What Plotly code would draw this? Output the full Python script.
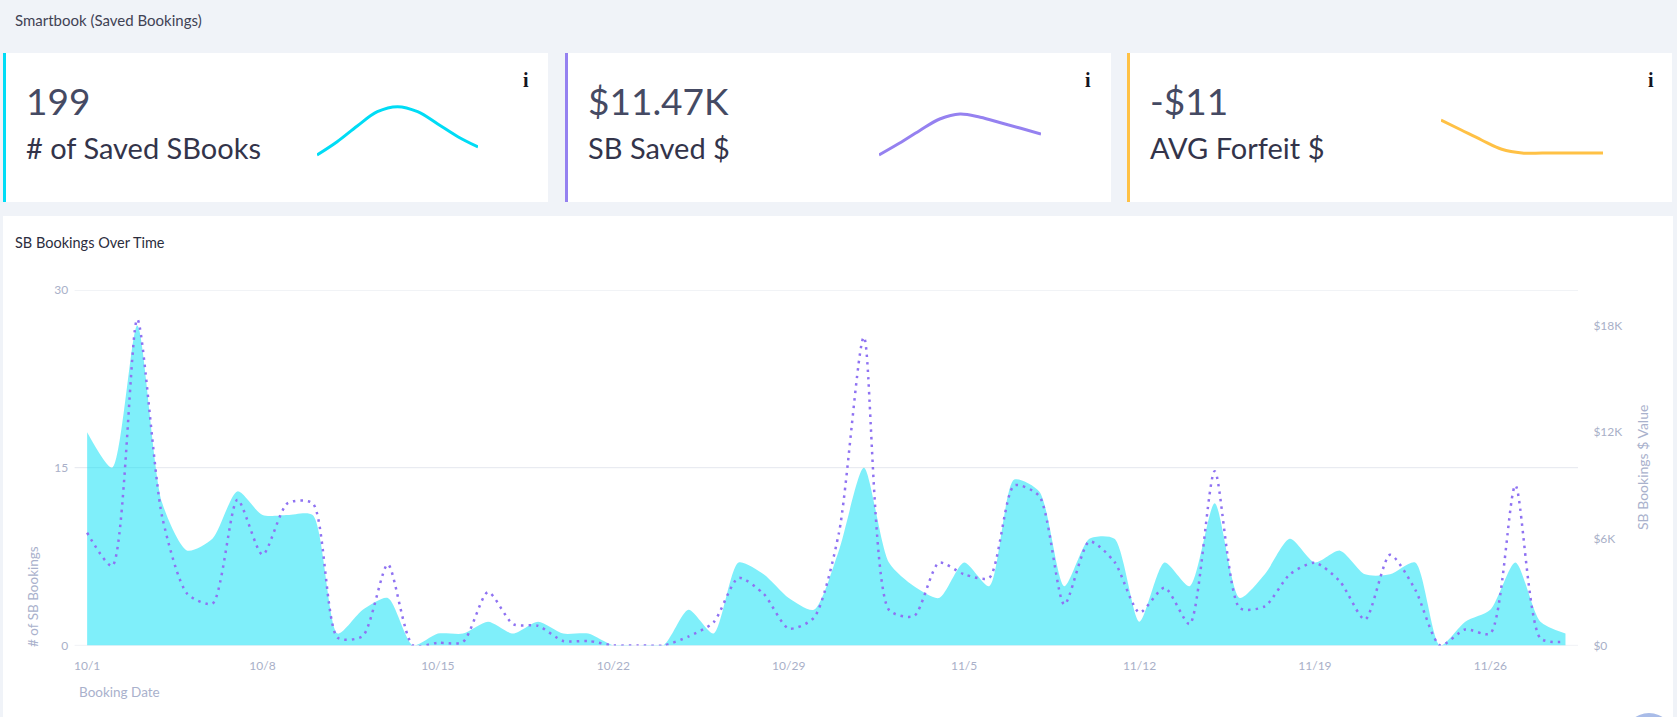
import plotly.graph_objects as go

W, H = 1677, 717
FONT = "Lato"

# ---------- data ----------
dates = ["10/1","10/2","10/3","10/4","10/5","10/6","10/7","10/8","10/9","10/10",
         "10/11","10/12","10/13","10/14","10/15","10/16","10/17","10/18","10/19","10/20",
         "10/21","10/22","10/23","10/24","10/25","10/26","10/27","10/28","10/29","10/30",
         "10/31","11/1","11/2","11/3","11/4","11/5","11/6","11/7","11/8","11/9",
         "11/10","11/11","11/12","11/13","11/14","11/15","11/16","11/17","11/18","11/19",
         "11/20","11/21","11/22","11/23","11/24","11/25","11/26","11/27","11/28","11/29"]
bookings = [18,15,27,12,8,9,13,11,11,11,
            1,3,4,0,1,1,2,1,2,1,
            1,0,0,0,3,1,7,6,4,3,
            8,15,7,5,4,7,5,14,13,5,
            9,9,2,7,5,12,4,6,9,7,
            8,6,6,7,0,2,3,7,2,1]
saved_value = [6340,4470,18350,7200,2900,2350,8200,5100,8000,8000,
               430,530,4560,0,150,200,3000,1200,1100,250,
               250,0,0,0,500,1300,3800,2900,950,1550,
               6300,17350,2000,1650,4650,4000,3800,9000,8400,2300,
               5850,4700,1850,3250,1200,9800,2100,2200,4000,4650,
               3600,1450,5100,3150,0,900,670,9000,400,200]
x_ticks = ["10/1","10/8","10/15","10/22","10/29","11/5","11/12","11/19","11/26"]
left_ticks = [0, 15, 30]
right_ticks = [0, 6000, 12000, 18000]
right_labels = ["$0", "$6K", "$12K", "$18K"]

spark_x = [1, 2, 3, 4, 5, 6, 7, 8, 9]
spark_saved = [5, 18.3, 34, 48.3, 53.3, 48.3, 36, 23.3, 13]
spark_dollars = [5, 16.7, 29.3, 41, 46, 42.7, 37.3, 31.7, 26]
spark_forfeit = [40, 30, 20, 10.7, 7, 7, 7, 7, 7]

kpi_values = ["199", "$11.47K", "-$11"]
kpi_names = ["# of Saved SBooks", "SB Saved $", "AVG Forfeit $"]
kpi_colors = ["#00dcf5", "#9581f0", "#ffc145"]

# ---------- layout helpers (pixel -> paper) ----------
def px(x): return x / W
def py(y): return 1 - y / H

fig = go.Figure()

fig.add_trace(go.Scatter(x=dates, y=bookings, mode="lines", yaxis="y", xaxis="x",
    line=dict(shape="spline", smoothing=0.7, width=0, color="rgba(0,224,245,0)"),
    fill="tozeroy", fillcolor="rgba(0,224,245,0.5)", hoverinfo="x+y", showlegend=False))
fig.add_trace(go.Scatter(x=dates, y=saved_value, mode="lines", yaxis="y2", xaxis="x",
    line=dict(shape="spline", smoothing=0.7, width=2.5, color="#8f72f2", dash="2.5px,5px"),
    hoverinfo="x+y", showlegend=False))

boxes = [(317, 478), (879, 1041), (1441, 1603)]
series = [spark_saved, spark_dollars, spark_forfeit]
for i, (vals, col) in enumerate(zip(series, kpi_colors)):
    fig.add_trace(go.Scatter(x=spark_x, y=vals, mode="lines", xaxis=f"x{i+3}", yaxis=f"y{i+3}",
        line=dict(shape="spline", smoothing=1.0, width=3, color=col),
        hoverinfo="skip", showlegend=False))

shapes = []
def rect(x0, y0, x1, y1, color):
    shapes.append(dict(type="rect", xref="paper", yref="paper", layer="below",
                       x0=px(x0), x1=px(x1), y0=py(y1), y1=py(y0),
                       fillcolor=color, line=dict(width=0)))

cards = [(3, 548), (565, 1111), (1127, 1672)]
for (x0, x1), col in zip(cards, kpi_colors):
    rect(x0, 53, x1, 202, "#ffffff")
    rect(x0, 53, x0 + 3, 202, col)
rect(3, 216, 1673, 717, "#ffffff")
for t in left_ticks:
    shapes.append(dict(type="line", xref="paper", yref="y", layer="below",
                       x0=px(74.6), x1=px(1578), y0=t, y1=t,
                       line=dict(color="#e4e7ee", width=1)))
shapes.append(dict(type="circle", xref="paper", yref="paper", layer="above",
                   x0=px(1624), x1=px(1674), y0=py(763), y1=py(713),
                   fillcolor="#a9bce8", line=dict(width=0)))

ann = []
def text(x, y, s, size, color, anchor="left", family=FONT, angle=0):
    ann.append(dict(text=s, x=px(x), y=py(y), xref="paper", yref="paper", showarrow=False,
                    xanchor=anchor, yanchor="middle", align=anchor, textangle=angle,
                    font=dict(family=family, size=size, color=color)))

text(13, 20, "Smartbook (Saved Bookings)", 15, "#3f4254")
text(13, 243, "SB Bookings Over Time", 14.5, "#2b2d3d")
for tx, ix, v, n in zip([24, 586, 1148], [525.5, 1088, 1650.5], kpi_values, kpi_names):
    text(tx, 101, v, 37, "#454a63")
    text(tx, 147, n, 29, "#33344a")
    text(ix, 80, "i", 20, "#15151f", anchor="center", family="Liberation Serif")
    ann[-1]["font"]["weight"] = "bold"
text(77, 692, "Booking Date", 13.5, "#a9b1cc")
text(33, 597, "# of SB Bookings", 13.5, "#a9b1cc", anchor="center", angle=-90)
text(1642, 468, "SB Bookings $ Value", 14, "#a9b1cc", anchor="center", angle=-90)

tickfont = dict(family=FONT, size=12, color="#a9b0c8")
layout = dict(
    width=W, height=H, margin=dict(l=0, r=0, t=0, b=0, autoexpand=False),
    paper_bgcolor="#f0f3f8", plot_bgcolor="rgba(0,0,0,0)",
    shapes=shapes, annotations=ann, showlegend=False,
    xaxis=dict(domain=[px(74.6), px(1578)], range=[-0.5, 59.5], type="category",
               categoryorder="array", categoryarray=dates,
               tickmode="array", tickvals=x_ticks, ticktext=x_ticks,
               showgrid=False, zeroline=False, showline=False,
               ticks="outside", ticklen=9, tickcolor="rgba(0,0,0,0)", tickfont=tickfont, anchor="y"),
    yaxis=dict(domain=[py(645.4), py(290)], range=[0, 30], tickmode="array", tickvals=left_ticks,
               showgrid=False, zeroline=False, showline=False,
               ticks="outside", ticklen=3, tickcolor="rgba(0,0,0,0)", tickfont=tickfont, anchor="x"),
    yaxis2=dict(domain=[py(645.4), py(290)], range=[0, 20000], overlaying="y", side="right",
                tickmode="array", tickvals=right_ticks, ticktext=right_labels,
                showgrid=False, zeroline=False, showline=False,
                ticks="outside", ticklen=12, tickcolor="rgba(0,0,0,0)", tickfont=tickfont, anchor="x"),
)
for i, (x0, x1) in enumerate(boxes):
    layout[f"xaxis{i+3}"] = dict(domain=[px(x0), px(x1)], range=[1, 9], visible=False,
                                 anchor=f"y{i+3}", fixedrange=True)
    layout[f"yaxis{i+3}"] = dict(domain=[py(160), py(100)], range=[0, 60], visible=False,
                                 anchor=f"x{i+3}", fixedrange=True)
fig.update_layout(**layout)

fig.write_html("out.html", config={"displayModeBar": False},
               post_script="document.body.style.margin='0';document.body.style.overflow='hidden';document.body.style.background='#f0f3f8';")
